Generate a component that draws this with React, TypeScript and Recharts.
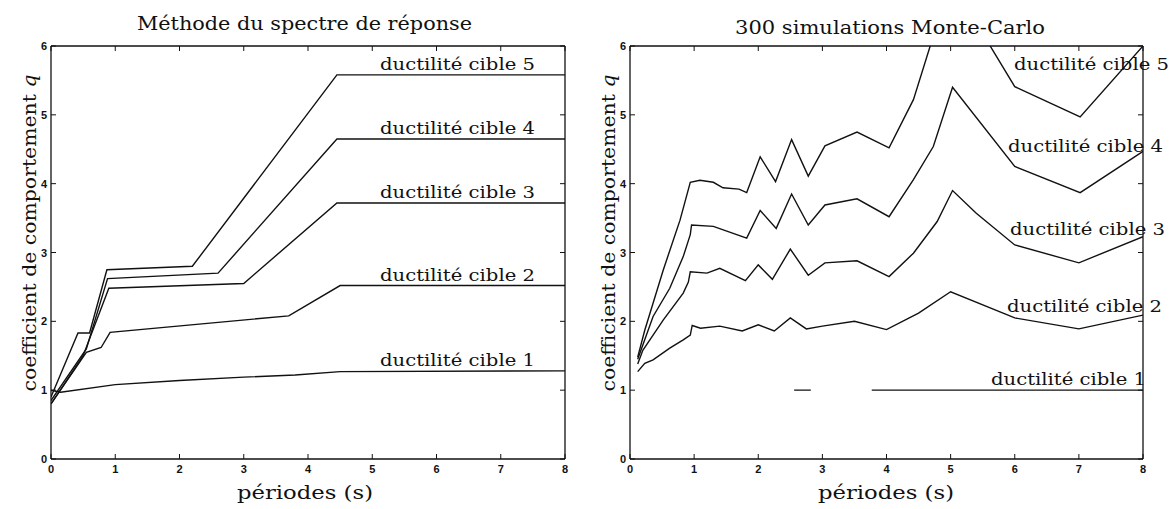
import React from 'react';
import { LineChart, Line, XAxis, YAxis } from 'recharts';

// axes
const periodTicks = [0, 1, 2, 3, 4, 5, 6, 7, 8];
const qTicks = [0, 1, 2, 3, 4, 5, 6];
const curveNames = ['ductilité cible 1', 'ductilité cible 2', 'ductilité cible 3', 'ductilité cible 4', 'ductilité cible 5'];

// Méthode du spectre de réponse (periods in s, behaviour factor q)
const spT1 = [0, 0.15, 1, 2, 3, 3.8, 4.5, 8];
const spQ1 = [1.0, 0.97, 1.08, 1.14, 1.19, 1.22, 1.27, 1.28];
const spT2 = [0, 0.55, 0.78, 0.92, 3.7, 4.5, 8];
const spQ2 = [0.8, 1.55, 1.62, 1.84, 2.08, 2.52, 2.52];
const spT3 = [0, 0.5, 0.9, 3.0, 4.45, 8];
const spQ3 = [0.8, 1.5, 2.48, 2.55, 3.72, 3.72];
const spT4 = [0, 0.55, 0.88, 2.6, 4.45, 8];
const spQ4 = [0.85, 1.6, 2.62, 2.7, 4.65, 4.65];
const spT5 = [0, 0.42, 0.6, 0.87, 2.2, 4.45, 8];
const spQ5 = [0.9, 1.83, 1.83, 2.75, 2.8, 5.58, 5.58];

// 300 simulations Monte-Carlo
const mcT1 = [2.56, 2.82, 3.3, 3.77, 8];
const mcQ1 = [1, 1, null, 1, 1];
const mcT2 = [0.12, 0.23, 0.36, 0.62, 0.83, 0.94, 0.97, 1.1, 1.4, 1.75, 2, 2.25, 2.5, 2.75, 3, 3.5, 4, 4.5, 5, 6, 7, 8];
const mcQ2 = [1.27, 1.39, 1.44, 1.61, 1.73, 1.8, 1.94, 1.9, 1.93, 1.86, 1.95, 1.86, 2.05, 1.89, 1.93, 2.0, 1.88, 2.12, 2.43, 2.05, 1.89, 2.09];
const mcT3 = [0.12, 0.2, 0.52, 0.83, 0.91, 0.94, 1.2, 1.4, 1.8, 2, 2.22, 2.5, 2.78, 3.04, 3.54, 4.04, 4.42, 4.79, 5.03, 5.4, 6, 7, 8];
const mcQ3 = [1.38, 1.58, 2.02, 2.41, 2.57, 2.72, 2.7, 2.77, 2.59, 2.82, 2.61, 3.05, 2.67, 2.85, 2.88, 2.65, 2.99, 3.45, 3.9, 3.57, 3.11, 2.85, 3.23];
const mcT4 = [0.12, 0.36, 0.62, 0.83, 0.94, 0.96, 1.3, 1.82, 2.03, 2.28, 2.52, 2.78, 3.04, 3.54, 4.04, 4.42, 4.73, 5.03, 6, 7.02, 8];
const mcQ4 = [1.45, 2.07, 2.48, 2.94, 3.26, 3.4, 3.38, 3.21, 3.61, 3.35, 3.85, 3.4, 3.69, 3.78, 3.52, 4.06, 4.54, 5.4, 4.25, 3.87, 4.47];
const mcT5 = [0.12, 0.23, 0.52, 0.78, 0.94, 1.09, 1.3, 1.45, 1.7, 1.82, 2.03, 2.27, 2.52, 2.78, 3.04, 3.54, 4.04, 4.42, 5, 6, 7.02, 8];
const mcQ5 = [1.48, 1.87, 2.75, 3.47, 4.02, 4.05, 4.02, 3.94, 3.92, 3.87, 4.39, 4.03, 4.64, 4.11, 4.55, 4.75, 4.52, 5.22, 6.95, 5.41, 4.97, 6.0];
// where the Monte-Carlo curve names sit (q of the text baseline)
const mcLabelQ = [1.08, 2.14, 3.26, 4.46, 5.65];

const toPoints = (t: number[], q: (number | null)[]) => t.map((v, i) => ({ t: v, q: q[i] }));

const spectrumSeries = [
  toPoints(spT1, spQ1), toPoints(spT2, spQ2), toPoints(spT3, spQ3), toPoints(spT4, spQ4), toPoints(spT5, spQ5),
];
const monteCarloSeries = [
  toPoints(mcT1, mcQ1), toPoints(mcT2, mcQ2), toPoints(mcT3, mcQ3), toPoints(mcT4, mcQ4), toPoints(mcT5, mcQ5),
];

const SERIF = '"DejaVu Serif", serif';
const SANS = '"Liberation Sans", Arial, sans-serif';
const INK = '#111';

const TOP = 46;
const BOTTOM = 459;
const H = 509;
const qToY = (q: number) => BOTTOM - (q / 6) * (BOTTOM - TOP);

const BottomTick = ({ x, y, payload }: any) => (
  <g>
    <line x1={x} y1={y} x2={x} y2={y - 5} stroke={INK} />
    <text x={x} y={y + 14} textAnchor="middle" fontSize={11} fontWeight="bold" fontFamily={SANS} fill={INK}>{payload.value}</text>
  </g>
);
const TopTick = ({ x, y }: any) => <line x1={x} y1={y} x2={x} y2={y + 5} stroke={INK} />;
const LeftTick = ({ x, y, payload }: any) => (
  <g>
    <line x1={x} y1={y} x2={x + 5} y2={y} stroke={INK} />
    <text x={x - 4} y={y + 4} textAnchor="end" fontSize={11} fontWeight="bold" fontFamily={SANS} fill={INK}>{payload.value}</text>
  </g>
);
const RightTick = ({ x, y }: any) => <line x1={x} y1={y} x2={x - 5} y2={y} stroke={INK} />;

// axes are 1px thick boxes, so margins are one pixel less than the plot edges
const Panel = ({ series, left, width, plotLeft, plotRight }: any) => (
  <div style={{ position: 'absolute', left, top: 0 }}>
    <LineChart width={width} height={H} margin={{ top: TOP - 1, right: width - plotRight - 1, bottom: H - BOTTOM - 1, left: plotLeft - 1 }}>
      <XAxis dataKey="t" type="number" domain={[0, 8]} ticks={periodTicks} allowDataOverflow
        height={1} tickSize={0} tickMargin={0} tickLine={false} interval={0}
        axisLine={{ stroke: INK, strokeWidth: 1.3 }} tick={<BottomTick />} />
      <XAxis xAxisId="top" orientation="top" dataKey="t" type="number" domain={[0, 8]} ticks={periodTicks} allowDataOverflow
        height={1} tickSize={0} tickMargin={0} tickLine={false} interval={0}
        axisLine={{ stroke: INK, strokeWidth: 1.3 }} tick={<TopTick />} />
      <YAxis type="number" domain={[0, 6]} ticks={qTicks} allowDataOverflow
        width={1} tickSize={0} tickMargin={0} tickLine={false} interval={0}
        axisLine={{ stroke: INK, strokeWidth: 1.3 }} tick={<LeftTick />} />
      <YAxis yAxisId="right" orientation="right" type="number" domain={[0, 6]} ticks={qTicks} allowDataOverflow
        width={1} tickSize={0} tickMargin={0} tickLine={false} interval={0}
        axisLine={{ stroke: INK, strokeWidth: 1.3 }} tick={<RightTick />} />
      {series.map((pts: any[], i: number) => (
        <Line key={i} data={pts} dataKey="q" type="linear" stroke={INK} strokeWidth={1.4}
          dot={false} activeDot={false} isAnimationActive={false} />
      ))}
    </LineChart>
  </div>
);

const Txt = ({ x, y, w, size, children, anchor = 'start' }: any) => (
  <text x={x} y={y} fontFamily={SERIF} fontSize={size} fill={INK} textAnchor={anchor}
    textLength={w} lengthAdjust="spacingAndGlyphs">{children}</text>
);

const YTitle = ({ x }: any) => (
  <text transform={`translate(${x}, 233) rotate(-90)`} fontFamily={SERIF} fontSize={19} fill={INK}
    textAnchor="middle" textLength={317} lengthAdjust="spacingAndGlyphs">
    coefficient de comportement <tspan fontStyle="italic">q</tspan>
  </text>
);

export default function App() {
  const spLast = [spQ1, spQ2, spQ3, spQ4, spQ5].map((q) => q[q.length - 1] as number);
  const mcLabelX = [991, 1007, 1010, 1008, 1014];
  return (
    <div style={{ position: 'absolute', left: 0, top: 0, width: 1173, height: H, background: '#fff' }}>
      <Panel series={spectrumSeries} left={0} width={580} plotLeft={51} plotRight={565} />
      <Panel series={monteCarloSeries} left={580} width={593} plotLeft={50} plotRight={563} />
      <svg width={1173} height={H} style={{ position: 'absolute', left: 0, top: 0, pointerEvents: 'none' }}>
        <Txt x={137} y={30} w={335} size={18}>Méthode du spectre de réponse</Txt>
        <Txt x={735} y={34} w={310} size={18}>300 simulations Monte-Carlo</Txt>
        <YTitle x={36} />
        <YTitle x={615} />
        <Txt x={237} y={499} w={136} size={19}>périodes (s)</Txt>
        <Txt x={818} y={499} w={136} size={19}>périodes (s)</Txt>
        {curveNames.map((name, i) => (
          <Txt key={'sp' + i} x={380} y={qToY(spLast[i]) - 5} w={155} size={16}>{name}</Txt>
        ))}
        {curveNames.map((name, i) => (
          <Txt key={'mc' + i} x={mcLabelX[i]} y={qToY(mcLabelQ[i])} w={155} size={16}>{name}</Txt>
        ))}
      </svg>
    </div>
  );
}
